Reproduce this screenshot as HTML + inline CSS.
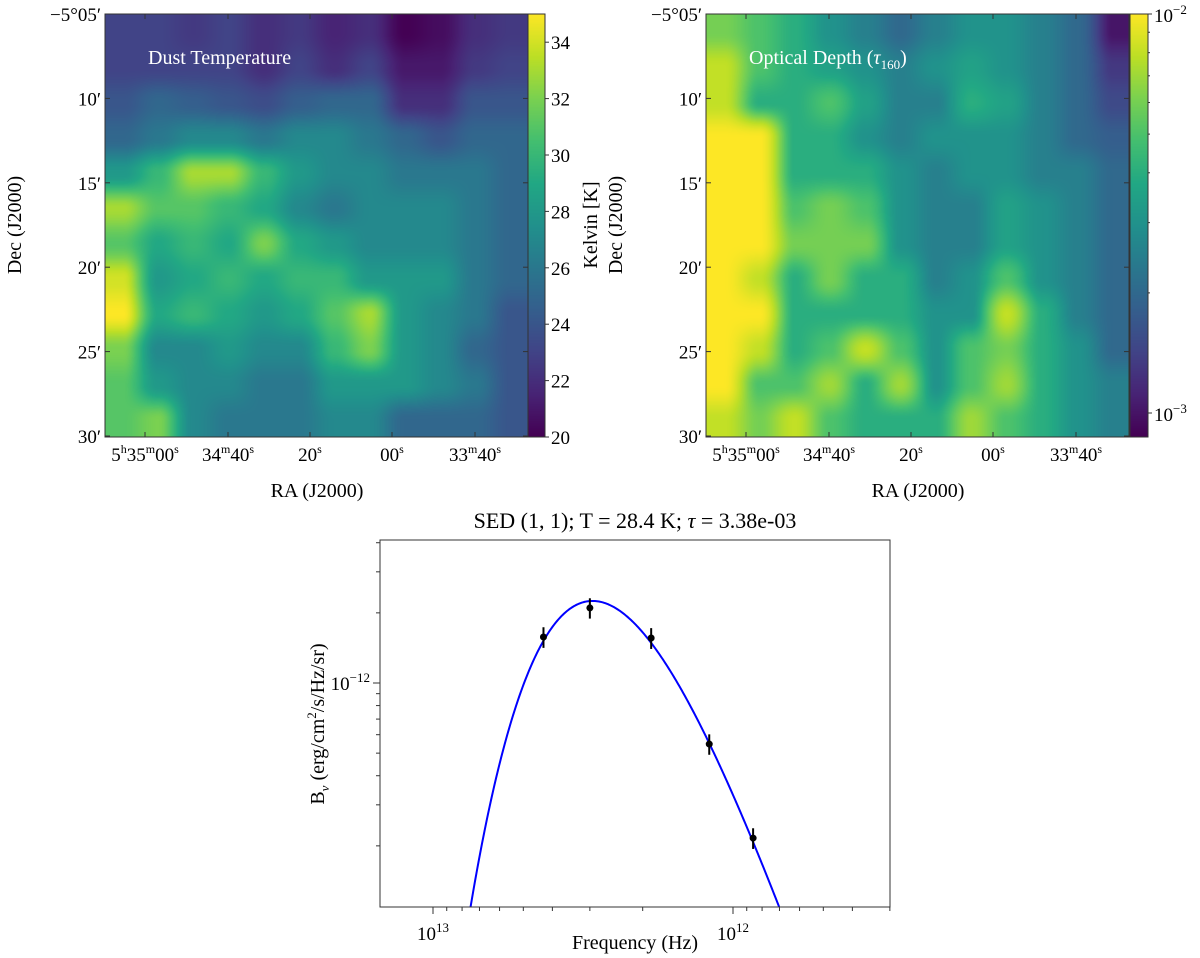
<!DOCTYPE html>
<html><head><meta charset="utf-8"><style>
body{margin:0;background:#fff;width:1200px;height:958px;overflow:hidden;position:relative;font-family:"Liberation Serif",serif}
canvas{position:absolute}
svg{position:absolute;left:0;top:0}
</style></head><body>
<canvas id="m1" width="423" height="423" style="left:105px;top:14px"></canvas>
<canvas id="m2" width="424" height="423" style="left:706px;top:14px"></canvas>
<canvas id="cb1" width="17" height="423" style="left:528px;top:14px"></canvas>
<canvas id="cb2" width="18" height="423" style="left:1130px;top:14px"></canvas>
<svg id="svg" width="1200" height="958" xmlns="http://www.w3.org/2000/svg" font-family="Liberation Serif, serif"></svg>
<script>
// ---- data ----
const tempGrid = [
[23,23,22.5,23,22,22.5,21.5,22,20,20.5,22,22.5],
[23,23,23,23,22,23,22,23,21,21,22.5,23],
[24,25,24.5,24,23.5,24.5,25,25,22,22,24,24],
[25,26,27,27,26,27,27,26,25,24,25,25],
[28,30,33,33,30,28,27,27,26,26,26,25],
[33,31,31,30,29,27,26,27,27,27,26,25],
[31,29,30,29,32,29,28,27,27,27,26,25],
[34,28,29,30,29,30,30,28,28,28,26,25],
[35,29,30,29,28,29,31,33,28,27,26,24],
[32,27,27,28,27,27,30,32,28,27,25,24],
[31,28,27,27,26,26,28,28,28,27,26,24],
[31,32,27,26,26,26,27,27,25,25,25,24]];
// optical depth in units of 1e-3
const tauGrid = [
[6,5,4,3,2.5,2,2.5,3,3,2.5,2,1],
[8,5,4,3.5,3,2.5,3,3.5,3,2.5,2,1.3],
[8,4,4,5,3.5,2.5,2.5,4,3.5,2.5,2,1.5],
[10,10,4,4,3,2.5,3,3,3,2.5,2,1.8],
[10,10,4,4,4,3,2.5,3,3,2.5,2.5,2],
[10,10,5,6,5,3,2.5,2.5,3.5,3,2.5,2],
[10,10,6,6,6,3,2.5,2.5,3.5,3,2.5,2],
[10,8,4,6,4,4,2.5,3,5,3,2.5,2],
[10,10,4,4,4,4,3,3,8,4,2.5,2],
[10,8,4,5,8,5,3,5,6,4,3,2],
[10,5,5,7,4,7,3,5,7,4,3,2.5],
[8,6,8,5,4,4,4,7,5,4,3,2.5]];
const sedFreq = [4.283e12, 3.0e12, 1.874e12, 1.2e12, 8.57e11];
const sedFlux = [1.575e-12, 2.10e-12, 1.56e-12, 5.47e-13, 2.16e-13];
const sedErr = [0.16e-12, 0.21e-12, 0.16e-12, 0.55e-13, 0.22e-13];
const fitT = 28.4, fitBeta = 2, fitPeakFlux = 2.25e-12;
const tempTicks = [20,22,24,26,28,30,32,34];
const raTicks = [['5','h','35','m','00','s'],['34','m','40','s'],['20','s'],['00','s'],['33','m','40','s']];
const decTicks = ['\u22125\u00b005\u2032','10\u2032','15\u2032','20\u2032','25\u2032','30\u2032'];

// ---- helpers ----
const stops=['#440154','#482475','#414487','#355f8d','#2a788e','#21918c','#22a884','#44bf70','#7ad151','#bddf26','#fde725'].map(h=>[parseInt(h.slice(1,3),16),parseInt(h.slice(3,5),16),parseInt(h.slice(5,7),16)]);
function viridis(t){t=Math.max(0,Math.min(1,t));const f=t*10,i=Math.min(9,Math.floor(f)),r=f-i;const a=stops[i],b=stops[i+1];return [a[0]+(b[0]-a[0])*r,a[1]+(b[1]-a[1])*r,a[2]+(b[2]-a[2])*r];}
function drawMap(id,grid,norm){
 const c=document.getElementById(id),ctx=c.getContext('2d'),W=c.width,H=c.height,img=ctx.createImageData(W,H);
 const n=grid.length,m=grid[0].length;
 const sm=x=>x*x*(3-2*x);
 for(let y=0;y<H;y++){const gy=Math.max(0,Math.min(n-1.001,y/H*n-0.5));const j=Math.floor(gy),fy=sm(gy-j);
  for(let x=0;x<W;x++){const gx=Math.max(0,Math.min(m-1.001,x/W*m-0.5));const i=Math.floor(gx),fx=sm(gx-i);
   const v=(grid[j][i]*(1-fx)+grid[j][i+1]*fx)*(1-fy)+(grid[j+1][i]*(1-fx)+grid[j+1][i+1]*fx)*fy;
   const col=viridis(norm(v));const k=(y*W+x)*4;img.data[k]=col[0];img.data[k+1]=col[1];img.data[k+2]=col[2];img.data[k+3]=255;}}
 ctx.putImageData(img,0,0);}
const tNorm=v=>(v-20)/15;
const tauNorm=v=>(Math.log10(v*1e-3)+3.06)/1.06;
drawMap('m1',tempGrid,tNorm);
drawMap('m2',tauGrid,tauNorm);
function drawBar(id){const c=document.getElementById(id),ctx=c.getContext('2d');for(let y=0;y<c.height;y++){const col=viridis(1-y/(c.height-1));ctx.fillStyle=`rgb(${col[0]|0},${col[1]|0},${col[2]|0})`;ctx.fillRect(0,y,c.width,1);}}
drawBar('cb1');drawBar('cb2');

const svg=document.getElementById('svg');const NS='http://www.w3.org/2000/svg';
function el(tag,attrs,parent){const e=document.createElementNS(NS,tag);for(const k in attrs)e.setAttribute(k,attrs[k]);(parent||svg).appendChild(e);return e;}
function txt(x,y,s,size,anchor,parent){const t=el('text',{x:x,y:y,'font-size':size,'text-anchor':anchor||'middle',fill:'#000'},parent);t.textContent=s;return t;}

// ---- map panels ----
function panel(x0,name,label){
 const g=el('g',{});
 
 
 el('rect',{x:x0,y:14,width:423,height:423,fill:'none',stroke:'#333','stroke-width':1},g);
 const raX=[40,123,205,287,370];
 raTicks.forEach((parts,k)=>{const x=x0+raX[k];
  el('line',{x1:x,y1:14,x2:x,y2:19,stroke:'#333'},g);el('line',{x1:x,y1:437,x2:x,y2:432,stroke:'#333'},g);
  const t=el('text',{x:x,y:461,'font-size':19,'text-anchor':'middle'},g);
  
  parts.forEach((p,i)=>{const s=el('tspan',{},t);if(i%2==1){s.setAttribute('font-size',12);s.setAttribute('dy',-8);}else if(i>0){s.setAttribute('dy',8);}s.textContent=p;});
 });
 decTicks.forEach((d,k)=>{const y=14+k*84.4;
  el('line',{x1:x0,y1:y,x2:x0+5,y2:y,stroke:'#333'},g);el('line',{x1:x0+423,y1:y,x2:x0+418,y2:y,stroke:'#333'},g);
  const t=txt(x0-4,y+7,d,19,'end',g);});
 const xl=txt(x0+212,497,'RA (J2000)',20,'middle',g);
 const yl=txt(0,0,'Dec (J2000)',20,'middle',g);yl.setAttribute('transform',`translate(${x0-84},225) rotate(-90)`);
 const pl=el('text',{x:x0+43,y:64,'font-size':20,fill:'#fff'},g);pl.innerHTML=label;
}
panel(105,'dust-temperature','Dust Temperature');
panel(706,'optical-depth','Optical Depth (<tspan font-style="italic">τ</tspan><tspan font-size="13" dy="5">160</tspan><tspan dy="-5">)</tspan>');

// colorbar 1
el('rect',{x:528,y:14,width:17,height:423,fill:'none',stroke:'#333'});
tempTicks.forEach(v=>{const y=437-(v-20)/15*423;el('line',{x1:545,y1:y,x2:549,y2:y,stroke:'#333'});const t=txt(551,y+7,String(v),19,'start');});
const kl=txt(0,0,'Kelvin [K]',20,'middle');kl.setAttribute('transform','translate(597,225) rotate(-90)');
// colorbar 2
el('rect',{x:1130,y:14,width:18,height:423,fill:'none',stroke:'#333'});
const cbY=v=>14+(-2-Math.log10(v))*399;
for(let d=-3;d<=-2;d++){for(let mm=1;mm<10;mm++){const v=mm*Math.pow(10,d);const y=cbY(v);if(y<14||y>437)continue;el('line',{x1:1148,y1:y,x2:mm==1?1152:1150,y2:y,stroke:'#333'});}}
[[-2,14],[-3,cbY(1e-3)]].forEach(([e,y])=>{const t=el('text',{x:1154,y:y+8,'font-size':19});t.innerHTML=`10<tspan font-size="13" dy="-8">${e==-2?'\u22122':'\u22123'}</tspan>`;});

// ---- SED ----
const AX={l:380,r:890,t:540,b:907};
const xDec=300, x13=433, yDec=233, y12=683;
const xScale=f=>x13+(13-Math.log10(f))*xDec;
const yScale=v=>y12-(Math.log10(v)+12)*yDec;
const sg=el('g',{});

const clip=el('clipPath',{id:'cl'},sg);el('rect',{x:AX.l,y:AX.t,width:AX.r-AX.l,height:AX.b-AX.t},clip);
for(let d=11;d<=13;d++)for(let mm=1;mm<10;mm++){const f=mm*Math.pow(10,d);const x=xScale(f);if(x<AX.l||x>AX.r)continue;el('line',{x1:x,y1:AX.b,x2:x,y2:AX.b+(mm==1?7:4),stroke:'#333'},sg);}
[[13,x13],[12,x13+xDec]].forEach(([e,x])=>{const t=el('text',{x:x,y:AX.b+33,'font-size':19,'text-anchor':'middle'},sg);t.innerHTML=`10<tspan font-size="13" dy="-8">${e}</tspan>`;});
for(let d=-14;d<=-11;d++)for(let mm=1;mm<10;mm++){const v=mm*Math.pow(10,d);const y=yScale(v);if(y<AX.t||y>AX.b)continue;el('line',{x1:AX.l,y1:y,x2:AX.l-(mm==1?7:4),y2:y,stroke:'#333'},sg);}
{const t=el('text',{x:AX.l-10,y:y12+7,'font-size':19,'text-anchor':'end'},sg);t.innerHTML='10<tspan font-size="13" dy="-8">\u221212</tspan>';}
// fit curve (modified blackbody model)
const hk=6.626e-27/1.381e-16;
const shape=f=>Math.pow(f,3+fitBeta)/(Math.exp(hk*f/fitT)-1);
let pk=0;for(let lf=11.5;lf<13.2;lf+=0.001)pk=Math.max(pk,shape(Math.pow(10,lf)));
let d='';for(let x=AX.l;x<=AX.r;x+=1){const f=Math.pow(10,13-(x-x13)/xDec);const v=shape(f)/pk*fitPeakFlux;let y=yScale(v);y=Math.min(y,AX.b+50);d+=(d?'L':'M')+x+' '+y.toFixed(2);}
const cv=el('path',{d:d,fill:'none',stroke:'#0000ff','stroke-width':2,'clip-path':'url(#cl)'},sg);

sedFreq.forEach((f,i)=>{const x=xScale(f);
 const eb=el('line',{x1:x,x2:x,y1:yScale(sedFlux[i]+sedErr[i]),y2:yScale(sedFlux[i]-sedErr[i]),stroke:'#000','stroke-width':2},sg);
 
 const p=el('circle',{cx:x,cy:yScale(sedFlux[i]),r:3.5,fill:'#000'},sg);
 });
el('rect',{x:AX.l,y:AX.t,width:AX.r-AX.l,height:AX.b-AX.t,fill:'none',stroke:'#333','stroke-width':1},sg);
const ti=el('text',{x:635,y:528,'font-size':22,'text-anchor':'middle'},sg);ti.innerHTML='SED (1, 1); T = 28.4 K; <tspan font-style="italic">τ</tspan> = 3.38e-03';
const xt=txt(635,949,'Frequency (Hz)',20,'middle',sg);
const yt=el('text',{'font-size':20,'text-anchor':'middle',transform:'translate(324,724) rotate(-90)'},sg);yt.innerHTML='B<tspan font-size="13" dy="5" font-style="italic">ν</tspan><tspan dy="-5"> (erg/cm</tspan><tspan font-size="13" dy="-8">2</tspan><tspan dy="8">/s/Hz/sr)</tspan>';
</script>
</body></html>
